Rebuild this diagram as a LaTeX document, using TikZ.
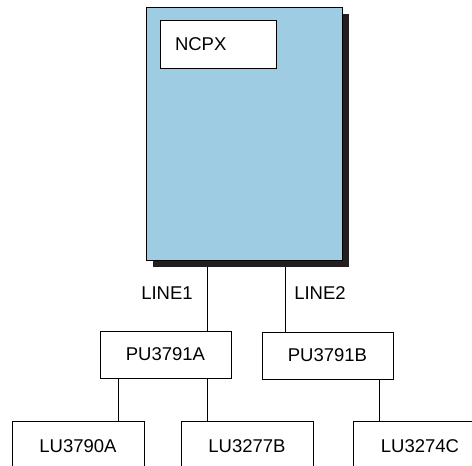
\documentclass[tikz,border=0pt]{standalone}
\usepackage{fontspec}
\setmainfont{Liberation Sans}
\definecolor{hostblue}{RGB}{158,204,226}
\definecolor{shadowgray}{RGB}{35,31,32}

\begin{document}
\begin{tikzpicture}[x=1pt,y=-1pt,
  unitbox/.style={draw,line width=0.8pt,fill=white,inner sep=0pt,
    font=\fontsize{18.5}{20}\selectfont},
  link/.style={line width=0.8pt}]
\useasboundingbox (0,0) rectangle (472,466);
\clip (0,0) rectangle (472,466);
% host box with drop shadow
\fill[shadowgray] (153,14) rectangle (349,267);
\node[draw,fill=hostblue,line width=0.8pt,inner sep=0pt,
  minimum width=196pt,minimum height=253pt] (host) at (244,133.5) {};
\node[unitbox,text width=86pt,align=left,inner xsep=15pt,
  minimum height=48pt] (ncpx) at (218,44) {NCPX};
% physical units
\node[unitbox,minimum width=131pt,minimum height=47pt] (pua) at (165.5,354.5) {PU3791A};
\node[unitbox,minimum width=131pt,minimum height=47pt] (pub) at (327.5,355.5) {PU3791B};
% logical units (cut off at the bottom)
\node[unitbox,minimum width=132pt,minimum height=50pt] (lua) at (78,446) {LU3790A};
\node[unitbox,minimum width=132pt,minimum height=50pt] (lub) at (247,446) {LU3277B};
\node[unitbox,minimum width=134pt,minimum height=50pt] (luc) at (420,446) {LU3274C};
% lines
\coordinate (l1) at (207,267);
\coordinate (l2) at (285,267);
\draw[link] (l1) -- (l1 |- pua.north);
\draw[link] (l2) -- (l2 |- pub.north);
\node[font=\fontsize{18.5}{20}\selectfont] (line1) at (167,293) {LINE1};
\node[font=\fontsize{18.5}{20}\selectfont] (line2) at (320,293) {LINE2};
\draw[link] (118,0 |- pua.south) -- (118,0 |- lua.north);
\draw[link] (207,0 |- pua.south) -- (207,0 |- lub.north);
\draw[link] (379,0 |- pub.south) -- (379,0 |- luc.north);
\end{tikzpicture}
\end{document}
